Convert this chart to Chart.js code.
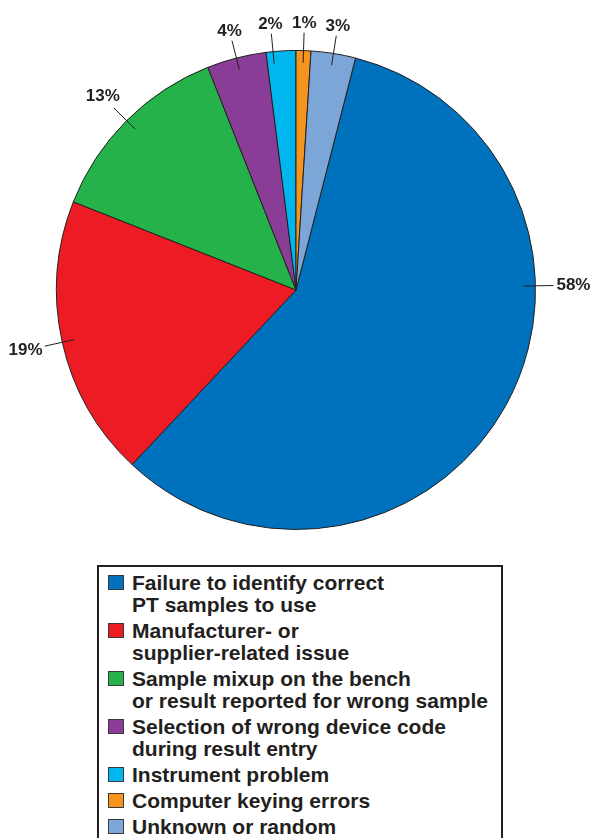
<!DOCTYPE html>
<html>
<head>
<meta charset="utf-8">
<script src="https://cdn.jsdelivr.net/npm/chart.js@4"></script>
<style>
	body { margin: 0; background: #fff; width: 592px; height: 838px; overflow: hidden; position: relative; }
	#wrap { position: absolute; left: 0; top: 0; width: 592px; height: 560px; }
	#legend {
		position: absolute; left: 97px; top: 565px; width: 393px; height: 300px;
		border: 2px solid #231f20; padding: 5px 0 0 9px; box-sizing: content-box;
		font: bold 21px "Liberation Sans", Arial, sans-serif; color: #231f20; line-height: 22px;
	}
	.item { display: flex; margin-top: 4px; }
	.item:first-child { margin-top: 0; }
	.swatch { width: 14px; height: 13px; border: 1px solid #3a3a3a; margin-top: 3px; margin-right: 8px; flex: none; }
</style>
</head>
<body>
<div id="wrap"><canvas id="chart" width="592" height="560"></canvas></div>
<div id="legend"></div>
<script>
// legend order
const categories = [
	["Failure to identify correct", "PT samples to use"],
	["Manufacturer- or", "supplier-related issue"],
	["Sample mixup on the bench", "or result reported for wrong sample"],
	["Selection of wrong device code", "during result entry"],
	["Instrument problem"],
	["Computer keying errors"],
	["Unknown or random"]
];
const shares = [58, 19, 13, 4, 2, 1, 3];
const pctLabels = ["58%", "19%", "13%", "4%", "2%", "1%", "3%"];
const sliceColors = ["#0071bc", "#ed1c24", "#26b24b", "#8a3d97", "#00b6ef", "#f7941d", "#7ca6d8"];

// orange and light blue sit just right of 12 o'clock
const startDeg = (shares[5] + shares[6]) / 100 * 360;

// a few labels are pulled off their mid angle (degrees, 0 = 3 o'clock)
const labelAngleOverride = { 0: -1, 4: -95.5 };

const pieLabels = {
	id: "pieLabels",
	afterDatasetsDraw(chart) {
		const ctx = chart.ctx;
		const arcs = chart.getDatasetMeta(0).data;
		ctx.save();
		ctx.font = "bold 17px 'Liberation Sans', Arial, sans-serif";
		ctx.fillStyle = "#231f20";
		ctx.strokeStyle = "#231f20";
		ctx.lineWidth = 1;
		ctx.textAlign = "center";
		ctx.textBaseline = "middle";
		arcs.forEach((arc, i) => {
			const p = arc.getProps(["x", "y", "startAngle", "endAngle", "outerRadius"], true);
			let a = (p.startAngle + p.endAngle) / 2;
			if (labelAngleOverride[i] !== undefined) a = labelAngleOverride[i] * Math.PI / 180;
			const c = Math.cos(a), s = Math.sin(a);
			const r = p.outerRadius;
			ctx.beginPath();
			ctx.moveTo(p.x + c * (r - 12), p.y + s * (r - 12));
			ctx.lineTo(p.x + c * (r + 18), p.y + s * (r + 18));
			ctx.stroke();
			const hw = ctx.measureText(pctLabels[i]).width / 2;
			const d = r + 21 + Math.hypot(hw * c, 6 * s);
			ctx.fillText(pctLabels[i], p.x + c * d, p.y + s * d);
		});
		ctx.restore();
	}
};

const ctx = document.getElementById("chart").getContext("2d");
new Chart(ctx, {
	type: "pie",
	data: {
		labels: categories.map((l) => l.join(" ")),
		datasets: [{
			data: shares,
			backgroundColor: sliceColors,
			borderColor: "#231f20",
			borderWidth: 1
		}]
	},
	options: {
		responsive: false,
		animation: false,
		rotation: startDeg,
		layout: { padding: { top: 50, bottom: 30, left: 56, right: 56 } },
		plugins: {
			legend: { display: false },
			tooltip: { enabled: false }
		}
	},
	plugins: [pieLabels]
});

const legend = document.getElementById("legend");
categories.forEach((lines, i) => {
	const item = document.createElement("div");
	item.className = "item";
	const sw = document.createElement("div");
	sw.className = "swatch";
	sw.style.background = sliceColors[i];
	const txt = document.createElement("div");
	txt.innerHTML = lines.join("<br>");
	item.appendChild(sw);
	item.appendChild(txt);
	legend.appendChild(item);
});
</script>
</body>
</html>
